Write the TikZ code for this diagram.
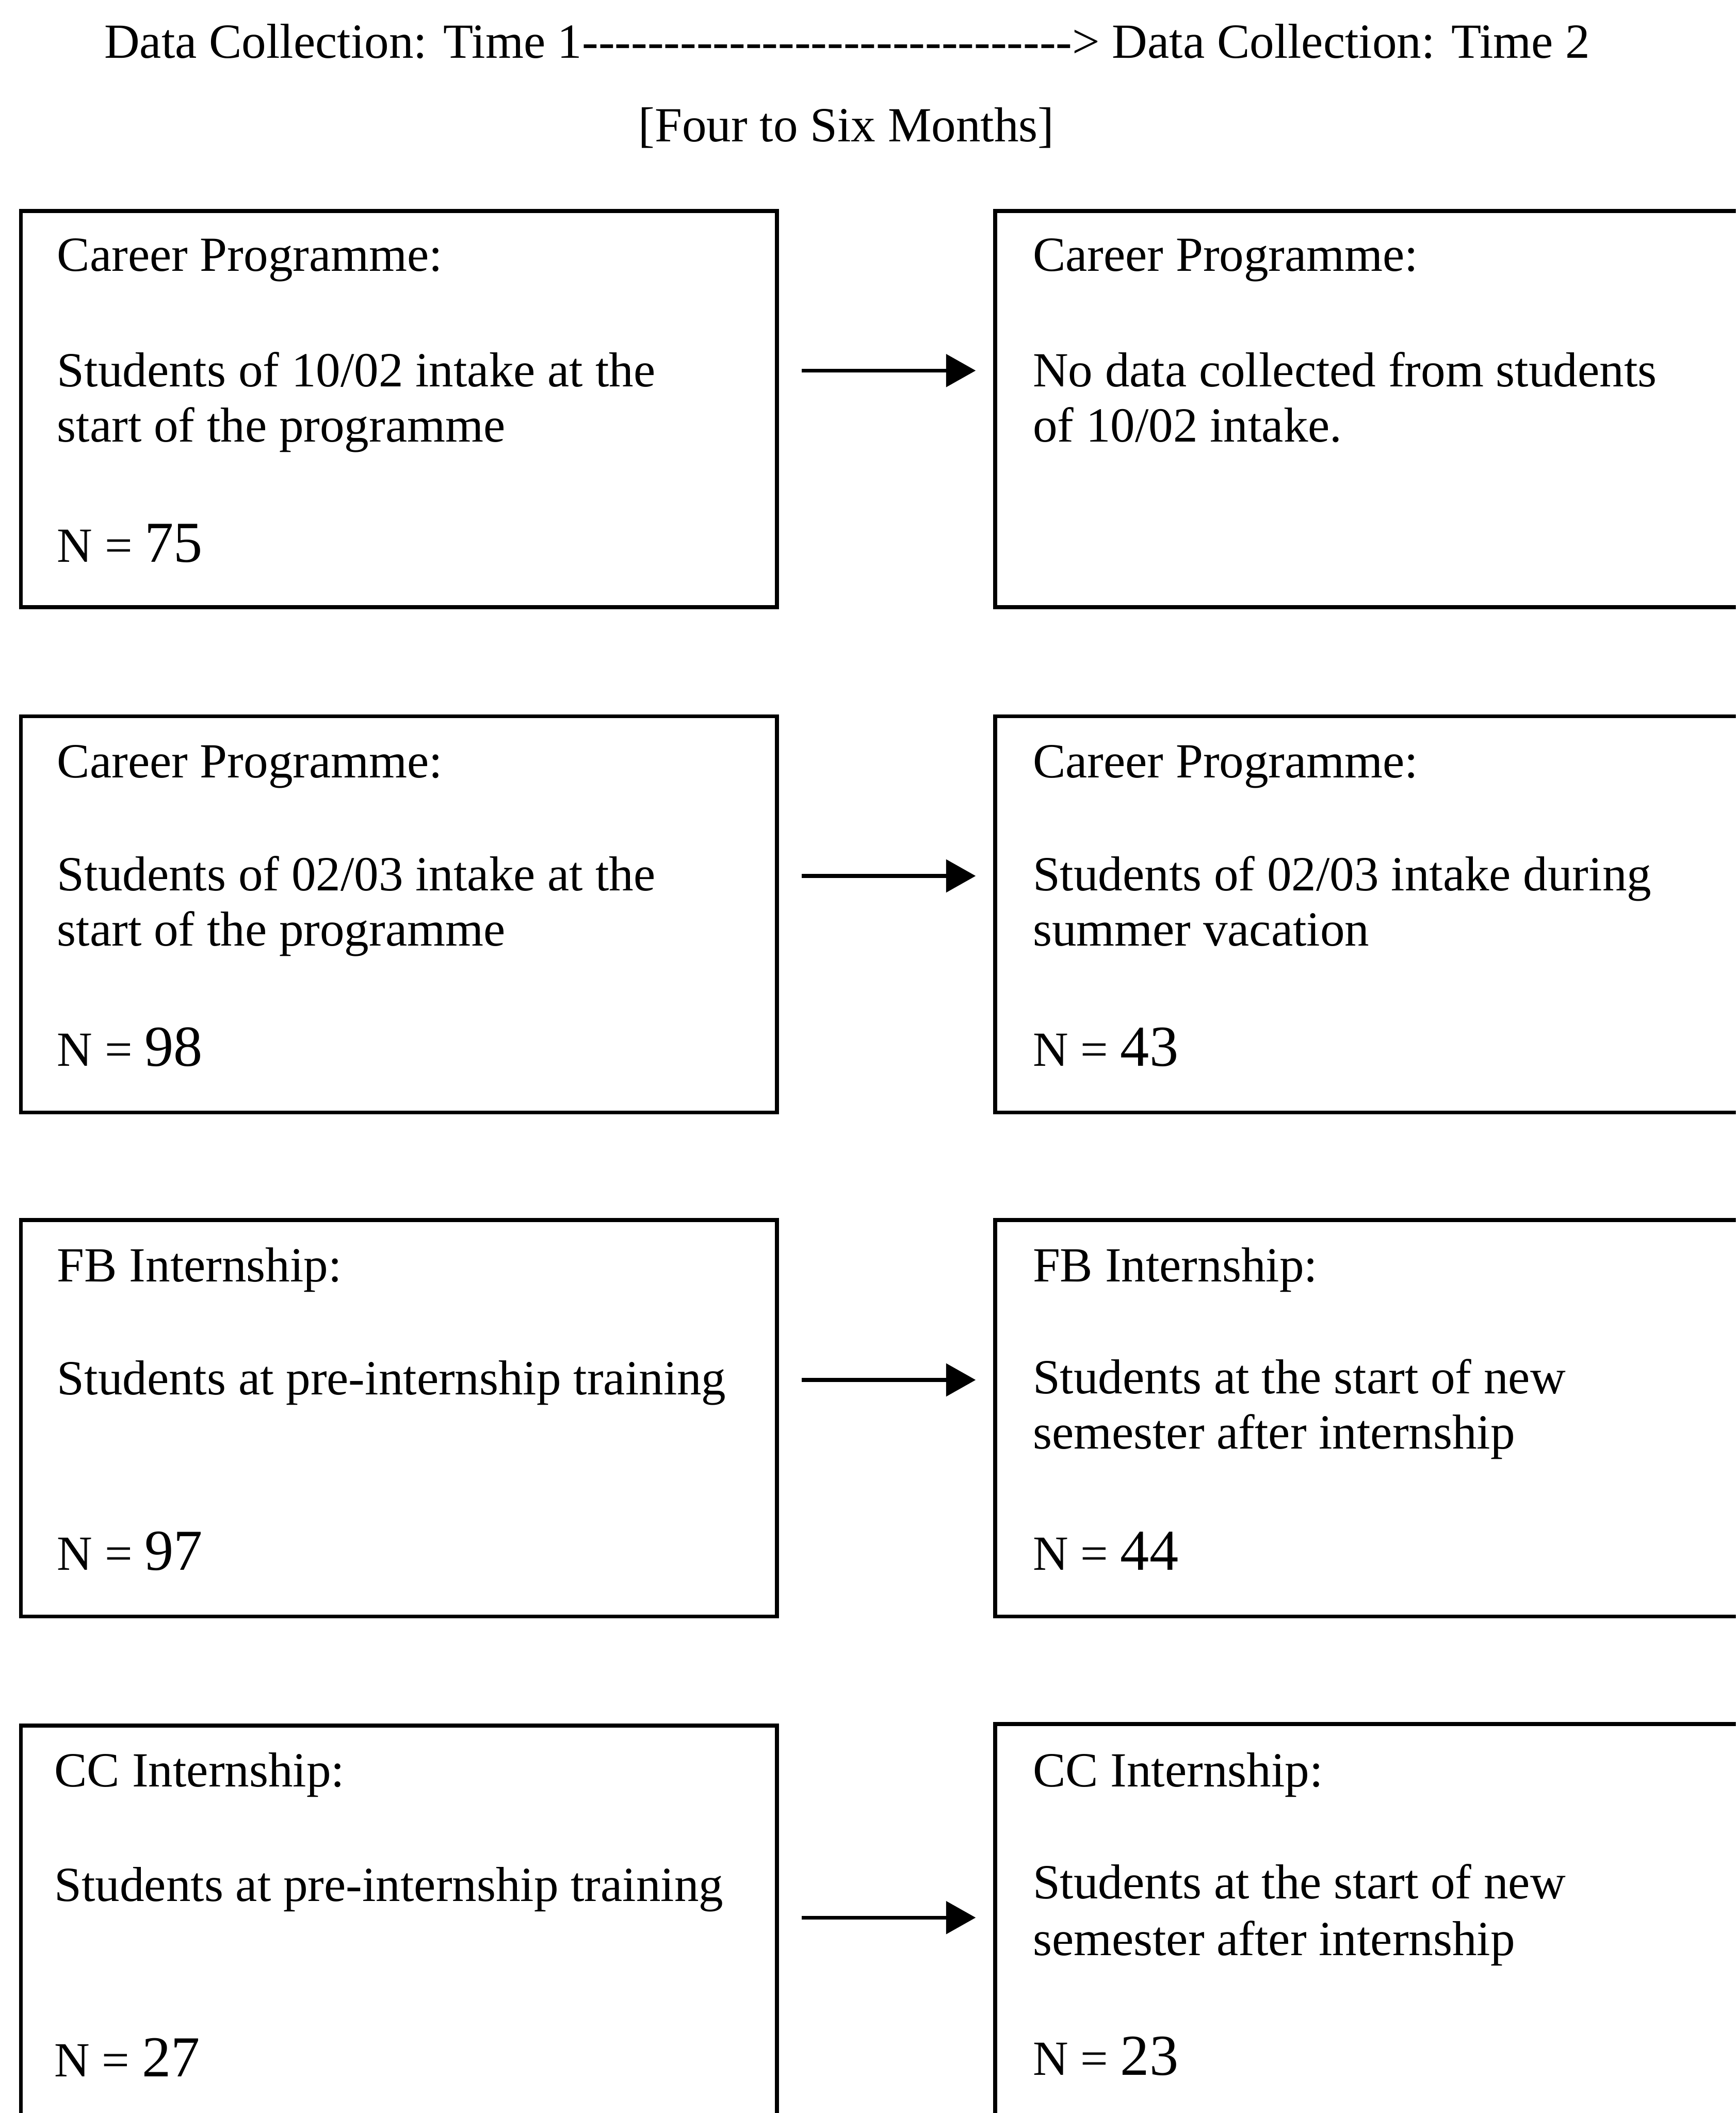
\documentclass[tikz,border=0pt]{standalone}
\usepackage{fontspec}
\setmainfont{Liberation Serif}
\usetikzlibrary{arrows.meta}
\newcommand{\hy}{\mbox{-}}
\newcommand{\num}[1]{{\fontsize{21.5}{21.5}\selectfont #1}}
\begin{document}
\begin{tikzpicture}[x=0.5pt,y=-0.5pt,
  box/.style={draw,line width=1.5pt,rectangle,minimum width=280.5pt,minimum height=147pt,anchor=north west,inner sep=0pt},
  txt/.style={anchor=base west,inner sep=0pt,font=\fontsize{18.2}{20.5}\selectfont},
  arr/.style={line width=1.4pt,-{Triangle[length=11pt,width=12pt]}}]
\clip (0,0) rectangle (1288,1568);
\fill[white] (0,0) rectangle (1288,1568);
% header
\node[txt] (h1) at (77,43) {Data Collection: Time 1\hy\hy\hy\hy\hy\hy\hy\hy\hy\hy\hy\hy\hy\hy\hy\hy\hy\hy\hy\hy\hy\hy\hy\hy\hy\hy\hy\hy\hy\hy> Data Collection: Time 2};
\node[txt,anchor=base] (h2) at (628,105) {[Four to Six Months]};
% boxes
\node[box] (L1) at (14,155) {};
\node[box] (R1) at (737,155) {};
\node[box] (L2) at (14,530) {};
\node[box] (R2) at (737,530) {};
\node[box] (L3) at (14,904) {};
\node[box] (R3) at (737,904) {};
\node[box] (L4) at (14,1279) {};
\node[box] (R4) at (737,1278) {};
% row 1
\node[txt] (l1a) at (42,201) {Career Programme:};
\node[txt] (l1b) at (42,287) {Students of 10/02 intake at the};
\node[txt] (l1c) at (42,328) {start of the programme};
\node[txt] (l1d) at (42,417) {N = \num{75}};
\node[txt] (r1a) at (766,201) {Career Programme:};
\node[txt] (r1b) at (766,287) {No data collected from students};
\node[txt] (r1c) at (766,328) {of 10/02 intake.};
% row 2
\node[txt] (l2a) at (42,577) {Career Programme:};
\node[txt] (l2b) at (42,661) {Students of 02/03 intake at the};
\node[txt] (l2c) at (42,702) {start of the programme};
\node[txt] (l2d) at (42,791) {N = \num{98}};
\node[txt] (r2a) at (766,577) {Career Programme:};
\node[txt] (r2b) at (766,661) {Students of 02/03 intake during};
\node[txt] (r2c) at (766,702) {summer vacation};
\node[txt] (r2d) at (766,791) {N = \num{43}};
% row 3
\node[txt] (l3a) at (42,951) {FB Internship:};
\node[txt] (l3b) at (42,1035) {Students at pre-internship training};
\node[txt] (l3d) at (42,1165) {N = \num{97}};
\node[txt] (r3a) at (766,951) {FB Internship:};
\node[txt] (r3b) at (766,1034) {Students at the start of new};
\node[txt] (r3c) at (766,1075) {semester after internship};
\node[txt] (r3d) at (766,1165) {N = \num{44}};
% row 4
\node[txt] (l4a) at (40,1326) {CC Internship:};
\node[txt] (l4b) at (40,1411) {Students at pre-internship training};
\node[txt] (l4d) at (40,1541) {N = \num{27}};
\node[txt] (r4a) at (766,1326) {CC Internship:};
\node[txt] (r4b) at (766,1409) {Students at the start of new};
\node[txt] (r4c) at (766,1451) {semester after internship};
\node[txt] (r4d) at (766,1540) {N = \num{23}};
% arrows
\coordinate (y1) at (0,275);
\coordinate (y2) at (0,650);
\coordinate (y3) at (0,1024);
\coordinate (y4) at (0,1423);
\draw[arr,shorten <=8.5pt,shorten >=6.5pt] (L1.east |- y1) -- (R1.west |- y1);
\draw[arr,shorten <=8.5pt,shorten >=6.5pt] (L2.east |- y2) -- (R2.west |- y2);
\draw[arr,shorten <=8.5pt,shorten >=6.5pt] (L3.east |- y3) -- (R3.west |- y3);
\draw[arr,shorten <=8.5pt,shorten >=6.5pt] (L4.east |- y4) -- (R4.west |- y4);
\end{tikzpicture}
\end{document}
